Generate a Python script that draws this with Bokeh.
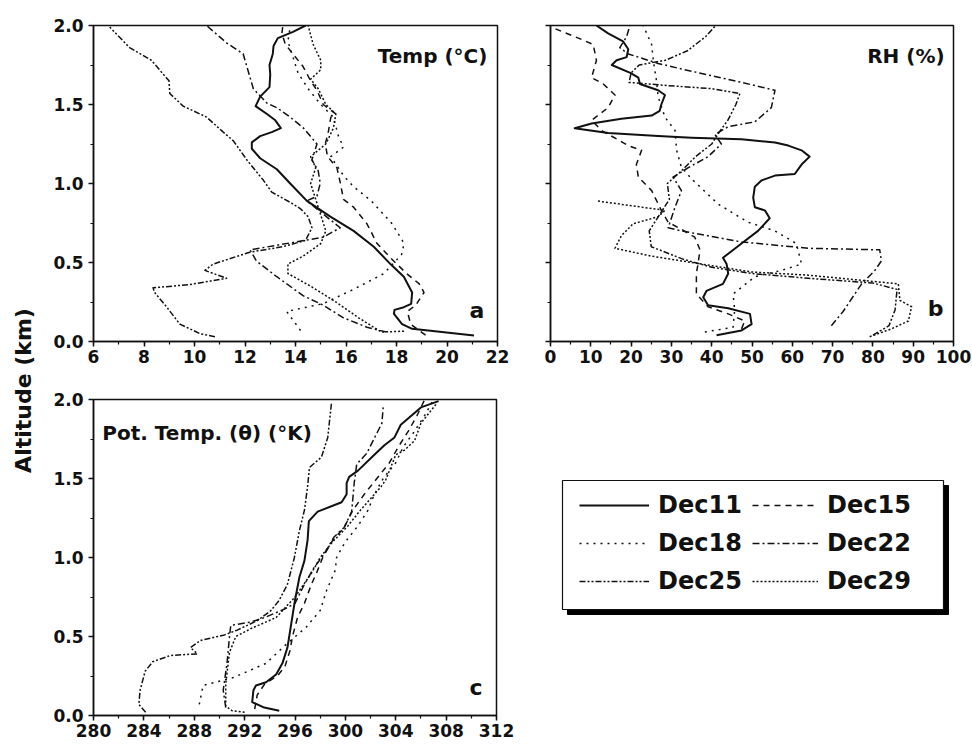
import math
from bokeh.plotting import figure
from bokeh.models import Range1d, FixedTicker, Label, Legend, LegendItem, PrintfTickFormatter
from bokeh.layouts import row, column
from bokeh.embed import file_html
from bokeh.resources import INLINE

# ---------------- data (altitude in km) ----------------
dates = ["Dec11", "Dec15", "Dec18", "Dec22", "Dec25", "Dec29"]

# Panel a: temperature (deg C)
a_dec11_alt = [0.038, 0.08, 0.11, 0.175, 0.2, 0.217, 0.238, 0.31, 0.41, 0.49, 0.6, 0.7, 0.79, 0.89, 1.0, 1.09, 1.16, 1.22, 1.26, 1.30, 1.325, 1.35, 1.40, 1.44, 1.49, 1.55, 1.61, 1.69, 1.75, 1.82, 1.87, 1.92, 1.96, 2.0]
a_dec11_val = [21.07, 18.62, 18.22, 17.9, 17.92, 18.29, 18.58, 18.62, 18.29, 17.76, 17.1, 16.3, 15.38, 14.45, 13.79, 13.26, 12.6, 12.27, 12.27, 12.6, 13.06, 13.42, 13.2, 12.87, 12.42, 12.6, 12.97, 13.0, 12.97, 13.1, 13.13, 13.3, 13.9, 14.4]
a_dec15_alt = [0.04, 0.11, 0.19, 0.23, 0.31, 0.365, 0.43, 0.53, 0.62, 0.745, 0.85, 0.9, 1.0, 1.1, 1.17, 1.25, 1.335, 1.42, 1.44, 1.5, 1.59, 1.65, 1.74, 1.82, 1.88, 1.95, 2.0]
a_dec15_val = [19.15, 18.56, 18.43, 18.76, 19.09, 18.9, 18.4, 17.76, 17.23, 16.83, 16.3, 15.9, 15.78, 15.64, 15.27, 15.18, 15.31, 15.4, 15.6, 15.1, 14.85, 14.6, 14.3, 13.9, 13.6, 13.46, 13.5]
a_dec18_alt = [0.07, 0.19, 0.24, 0.33, 0.43, 0.55, 0.62, 0.70, 0.75, 0.89, 0.98, 1.05, 1.17, 1.23, 1.3, 1.42, 1.5, 1.6, 1.7, 1.8, 1.9, 2.0]
a_dec18_val = [14.2, 13.65, 15.1, 16.3, 17.5, 18.2, 18.3, 18.0, 17.8, 17.0, 16.3, 15.9, 15.4, 15.9, 15.7, 15.5, 15.0, 14.5, 14.1, 13.9, 13.7, 13.8]
a_dec22_alt = [0.06, 0.09, 0.15, 0.23, 0.29, 0.41, 0.51, 0.58, 0.66, 0.72, 0.89, 0.92, 1.0, 1.08, 1.15, 1.25, 1.35, 1.42, 1.48, 1.51, 1.60, 1.78, 1.82, 1.89, 2.0]
a_dec22_val = [17.6, 16.83, 15.9, 15.1, 14.3, 13.26, 12.45, 12.2, 15.1, 15.77, 14.45, 14.85, 14.98, 14.9, 14.65, 14.85, 14.32, 13.79, 13.26, 12.86, 12.33, 12.0, 11.93, 11.27, 10.48]
a_dec25_alt = [0.03, 0.05, 0.11, 0.22, 0.31, 0.34, 0.36, 0.40, 0.45, 0.49, 0.565, 0.6, 0.64, 0.72, 0.79, 0.84, 0.88, 0.945, 1.02, 1.15, 1.27, 1.325, 1.42, 1.49, 1.57, 1.65, 1.78, 1.86, 1.99]
a_dec25_val = [10.81, 10.21, 9.42, 8.89, 8.42, 8.36, 9.8, 11.27, 10.41, 10.74, 12.19, 13.5, 14.4, 14.65, 14.5, 14.2, 13.8, 13.06, 12.73, 12.07, 11.54, 11.14, 10.48, 9.55, 9.02, 8.99, 8.29, 7.43, 6.64]
a_dec29_alt = [0.065, 0.06, 0.15, 0.25, 0.35, 0.43, 0.49, 0.54, 0.62, 0.7, 0.8, 0.9, 1.0, 1.1, 1.17, 1.25, 1.35, 1.44, 1.5, 1.6, 1.66, 1.72, 1.78, 1.88, 2.0]
a_dec29_val = [18.3, 17.4, 16.5, 15.6, 14.6, 13.7, 13.7, 14.3, 15.0, 15.2, 15.0, 14.8, 14.6, 14.8, 14.6, 15.2, 15.5, 15.6, 15.2, 14.9, 14.6, 15.0, 15.0, 14.7, 14.5]

# Panel b: relative humidity (%)
b_dec11_alt = [0.04, 0.07, 0.11, 0.175, 0.21, 0.23, 0.28, 0.32, 0.365, 0.43, 0.49, 0.53, 0.62, 0.70, 0.78, 0.83, 0.85, 0.91, 0.98, 1.02, 1.05, 1.06, 1.12, 1.17, 1.21, 1.24, 1.26, 1.28, 1.29, 1.30, 1.32, 1.35, 1.38, 1.41, 1.43, 1.46, 1.5, 1.56, 1.59, 1.63, 1.67, 1.70, 1.75, 1.78, 1.8, 1.85, 1.9, 1.95, 2.0]
b_dec11_val = [41.2, 47.4, 49.9, 49.5, 44.1, 39.1, 37.9, 38.7, 42.8, 44.1, 43.7, 42.8, 47.4, 51.5, 54.4, 53.2, 50.7, 50.3, 50.7, 52.4, 55.7, 60.6, 62.3, 64.3, 62.3, 59.0, 55.7, 47.4, 35.0, 26.7, 14.3, 6.0, 10.2, 17.6, 25.1, 27.1, 27.5, 28.4, 26.7, 22.2, 21.8, 19.8, 15.2, 16.4, 18.9, 19.3, 18.0, 14.3, 11.4]
b_dec15_alt = [0.08, 0.13, 0.175, 0.22, 0.30, 0.43, 0.49, 0.58, 0.66, 0.71, 0.755, 0.83, 0.955, 1.04, 1.12, 1.21, 1.24, 1.335, 1.40, 1.48, 1.56, 1.63, 1.67, 1.78, 1.88, 1.93, 1.98]
b_dec15_val = [47.4, 48.2, 44.1, 39.1, 36.2, 36.2, 36.6, 37.1, 35.8, 32.5, 29.2, 27.5, 25.1, 21.8, 21.3, 22.6, 19.3, 12.7, 10.2, 14.3, 16.0, 13.1, 10.2, 11.4, 10.6, 6.0, 1.1]
b_dec18_alt = [0.06, 0.09, 0.2, 0.3, 0.41, 0.45, 0.49, 0.62, 0.70, 0.755, 0.87, 1.02, 1.10, 1.21, 1.335, 1.42, 1.55, 1.65, 1.78, 1.88, 2.0]
b_dec18_val = [38.3, 45.3, 45.7, 45.3, 50.7, 57.3, 62.3, 61.0, 55.7, 49.0, 41.6, 35.4, 32.5, 31.3, 30.9, 28.4, 26.7, 26.3, 25.5, 25.1, 23.0]
b_dec22_alt = [0.10, 0.19, 0.365, 0.45, 0.51, 0.58, 0.59, 0.63, 0.70, 0.72, 0.85, 0.955, 1.04, 1.10, 1.17, 1.25, 1.31, 1.36, 1.39, 1.48, 1.59, 1.64, 1.72, 1.76, 1.82, 1.86, 1.93, 2.0]
b_dec22_val = [69.7, 72.6, 77.2, 80.5, 82.1, 81.7, 63.9, 47.4, 32.5, 29.2, 30.9, 32.5, 30.4, 34.2, 39.1, 42.4, 40.8, 44.1, 50.7, 54.8, 55.7, 47.4, 33.3, 26.7, 19.3, 17.2, 18.9, 19.7]
b_dec25_alt = [0.04, 0.1, 0.2, 0.33, 0.37, 0.4, 0.43, 0.47, 0.52, 0.6, 0.7, 0.8, 0.9, 1.0, 1.08, 1.17, 1.25, 1.33, 1.4, 1.5, 1.57, 1.6, 1.62, 1.64, 1.7, 1.75, 1.78, 1.84, 1.93, 2.0]
b_dec25_val = [80, 84, 85.5, 86, 80, 64, 50, 40, 33, 25, 24.5, 27, 29.5, 29, 32.5, 36, 40, 42, 44, 46, 47, 40, 29, 19.5, 20, 22, 28.5, 34, 38.5, 41]
b_dec29_alt = [0.03, 0.08, 0.13, 0.22, 0.26, 0.365, 0.42, 0.44, 0.49, 0.54, 0.59, 0.67, 0.745, 0.79, 0.83, 0.89]
b_dec29_val = [79.2, 84.6, 88.8, 89.6, 86.7, 86.3, 63.9, 49.9, 37.5, 25.1, 16.0, 17.6, 20.5, 26.7, 28.4, 11.4]

# Panel c: potential temperature (K)
c_dec11_alt = [0.03, 0.05, 0.085, 0.16, 0.19, 0.21, 0.26, 0.33, 0.43, 0.58, 0.73, 0.875, 0.98, 1.11, 1.23, 1.29, 1.35, 1.40, 1.47, 1.51, 1.55, 1.65, 1.71, 1.76, 1.84, 1.95, 1.99]
c_dec11_val = [294.75, 293.56, 292.6, 292.7, 292.9, 293.7, 294.5, 295.0, 295.4, 295.7, 296.0, 296.35, 296.75, 297.0, 297.1, 297.8, 299.7, 300.1, 300.1, 300.3, 301.0, 302.3, 303.1, 303.9, 304.4, 306.0, 307.4]
c_dec15_alt = [0.04, 0.13, 0.2, 0.25, 0.31, 0.41, 0.5, 0.62, 0.71, 0.83, 0.9, 1.0, 1.11, 1.19, 1.3, 1.4, 1.5, 1.6, 1.7, 1.8, 1.9, 2.0]
c_dec15_val = [292.8, 293.0, 293.6, 294.6, 295.2, 295.6, 295.8, 296.2, 296.75, 297.3, 297.7, 298.2, 299.0, 299.9, 300.6, 301.5, 302.5, 303.5, 304.2, 305.0, 305.7, 306.3]
c_dec18_alt = [0.07, 0.19, 0.24, 0.33, 0.45, 0.56, 0.665, 0.79, 0.92, 1.0, 1.1, 1.2, 1.3, 1.4, 1.5, 1.6, 1.7, 1.8, 1.9, 2.0]
c_dec18_val = [288.4, 288.7, 291.1, 293.7, 295.3, 296.9, 298.0, 298.5, 299.2, 299.3, 300.0, 301.0, 301.8, 302.3, 303.0, 304.0, 304.6, 305.5, 306.3, 307.0]
c_dec22_alt = [0.05, 0.16, 0.33, 0.5, 0.57, 0.59, 0.62, 0.675, 0.71, 0.83, 0.935, 1.02, 1.13, 1.19, 1.29, 1.47, 1.59, 1.66, 1.85, 1.95]
c_dec22_val = [290.5, 290.3, 290.6, 290.8, 290.9, 292.4, 293.6, 295.2, 296.0, 296.75, 297.5, 298.3, 299.1, 299.9, 300.5, 300.7, 300.9, 301.7, 302.9, 303.0]
c_dec25_alt = [0.02, 0.07, 0.16, 0.28, 0.34, 0.38, 0.39, 0.43, 0.475, 0.51, 0.54, 0.60, 0.665, 0.73, 0.83, 1.0, 1.17, 1.30, 1.45, 1.57, 1.635, 1.76, 1.87, 1.98]
c_dec25_val = [284.14, 283.6, 283.7, 284.1, 284.7, 286.1, 288.25, 287.7, 288.5, 290.4, 291.4, 293.0, 294.1, 294.75, 295.4, 295.95, 296.35, 296.75, 297.0, 297.15, 298.1, 298.6, 298.75, 298.9]
c_dec29_alt = [0.02, 0.03, 0.06, 0.2, 0.4, 0.5, 0.55, 0.62, 0.75, 0.9, 1.0, 1.1, 1.2, 1.3, 1.4, 1.45, 1.49, 1.57, 1.65, 1.68, 1.74, 1.85, 1.97]
c_dec29_val = [292.0, 291.0, 290.5, 290.5, 290.8, 291.3, 292.5, 294.5, 296.0, 297.3, 298.0, 299.0, 300.2, 301.2, 302.3, 302.85, 303.2, 303.6, 304.0, 304.7, 305.5, 306.0, 307.2]

a_xticks = list(range(6, 23, 2))
b_xticks = list(range(0, 101, 10))
c_xticks = list(range(280, 313, 4))
y_ticks = [0.0, 0.5, 1.0, 1.5, 2.0]

FONT = "DejaVu Sans"
INK = "#111111"
STYLE = {
    "Dec11": dict(line_width=2.0, line_dash="solid"),
    "Dec15": dict(line_width=1.5, line_dash="6 5"),
    "Dec18": dict(line_width=1.5, line_dash="2 5"),
    "Dec22": dict(line_width=1.5, line_dash="7 3 2 3"),
    "Dec25": dict(line_width=1.5, line_dash="6 2 2 2 2 2"),
    "Dec29": dict(line_width=1.5, line_dash="2 2"),
}

panel_a = dict(zip(dates, [(a_dec11_alt, a_dec11_val), (a_dec15_alt, a_dec15_val), (a_dec18_alt, a_dec18_val),
                           (a_dec22_alt, a_dec22_val), (a_dec25_alt, a_dec25_val), (a_dec29_alt, a_dec29_val)]))
panel_b = dict(zip(dates, [(b_dec11_alt, b_dec11_val), (b_dec15_alt, b_dec15_val), (b_dec18_alt, b_dec18_val),
                           (b_dec22_alt, b_dec22_val), (b_dec25_alt, b_dec25_val), (b_dec29_alt, b_dec29_val)]))
panel_c = dict(zip(dates, [(c_dec11_alt, c_dec11_val), (c_dec15_alt, c_dec15_val), (c_dec18_alt, c_dec18_val),
                           (c_dec22_alt, c_dec22_val), (c_dec25_alt, c_dec25_val), (c_dec29_alt, c_dec29_val)]))


def make_panel(width, height, left, right, top, bottom, xr, xticks, xstep, show_ylabels, data):
    p = figure(width=width, height=height, min_border_left=left, min_border_right=right,
               min_border_top=top, min_border_bottom=bottom, title=None,
               x_range=Range1d(*xr), y_range=Range1d(0, 2),
               output_backend="svg", toolbar_location=None)
    p.xgrid.visible = False
    p.ygrid.visible = False
    p.outline_line_color = INK
    p.outline_line_width = 1.5
    p.background_fill_color = "white"
    p.border_fill_color = "white"
    minor_x = [xr[0] + i * xstep for i in range(int(round((xr[1] - xr[0]) / xstep)) + 1)]
    p.xaxis.ticker = FixedTicker(ticks=xticks, minor_ticks=minor_x)
    p.yaxis.ticker = FixedTicker(ticks=y_ticks, minor_ticks=[i * 0.25 for i in range(9)])
    p.yaxis.formatter = PrintfTickFormatter(format="%.1f")
    for ax in (p.xaxis[0], p.yaxis[0]):
        ax.axis_line_color = INK
        ax.axis_line_width = 1.5
        ax.major_tick_line_color = INK
        ax.major_tick_line_width = 1.5
        ax.minor_tick_line_color = INK
        ax.minor_tick_line_width = 1.2
        ax.major_tick_in = 0
        ax.major_tick_out = 5
        ax.minor_tick_in = 0
        ax.minor_tick_out = 3
        ax.major_label_text_font = FONT
        ax.major_label_text_font_style = "bold"
        ax.major_label_text_font_size = "17px"
        ax.major_label_text_color = INK
    p.xaxis.major_label_standoff = 3
    p.yaxis.major_label_standoff = 5
    if not show_ylabels:
        p.yaxis.major_label_text_color = None
    for d in dates:
        alt, val = data[d]
        p.line(x=val, y=alt, line_color=INK, line_join="round", **STYLE[d])
    return p


def add_text(p, x, y, text, size, align):
    p.add_layout(Label(x=x, y=y, text=text, text_align=align, text_baseline="alphabetic",
                       text_font=FONT, text_font_style="bold", text_font_size=size, text_color=INK))


pa = make_panel(477, 381, 53, 20, 25, 40, (6, 22), a_xticks, 1, True, panel_a)
pb = make_panel(455, 381, 33, 19, 25, 40, (0, 100), b_xticks, 5, False, panel_b)
pc = make_panel(476, 365, 53, 20, 18, 31, (280, 312), c_xticks, 2, True, panel_c)

add_text(pa, 21.6, 1.81, "Temp (°C)", "20px", "right")
add_text(pa, 21.48, 0.196, "a", "22px", "right")
add_text(pb, 97.8, 1.81, "RH (%)", "20px", "right")
add_text(pb, 97.5, 0.21, "b", "22px", "right")
add_text(pc, 280.7, 1.79, "Pot. Temp. (θ) (°K)", "20px", "left")
add_text(pc, 310.9, 0.18, "c", "22px", "right")

# y-axis title shared by panels (pixel-scaled helper canvas)
lab = figure(width=40, height=746, x_range=Range1d(0, 40), y_range=Range1d(0, 746),
             min_border=0, title=None, x_axis_location=None, y_axis_location=None,
             output_backend="svg", toolbar_location=None)
lab.grid.visible = False
lab.outline_line_color = None
lab.add_layout(Label(x=23, y=356, text="Altitude (km)", angle=math.pi / 2, text_align="center",
                     text_baseline="middle", text_font=FONT, text_font_style="bold",
                     text_font_size="22px", text_color=INK))

# legend panel (frame aligned with panel c; y range in frame pixels)
lg = figure(width=456, height=365, x_range=Range1d(0, 456), y_range=Range1d(0, 316),
            min_border_left=0, min_border_right=0, min_border_top=18, min_border_bottom=31,
            title=None, x_axis_location=None, y_axis_location=None,
            output_backend="svg", toolbar_location=None)
lg.grid.visible = False
lg.outline_line_color = None
lg.quad(left=[51], right=[432], bottom=[101], top=[230], fill_color="black", line_color="black")
lg.quad(left=[46], right=[427], bottom=[106], top=[235], fill_color="white", line_color=INK, line_width=1.2)
rends = {d: lg.line(x=[math.nan], y=[math.nan], line_color=INK, **STYLE[d]) for d in dates}


def make_legend(names, loc, gw):
    return Legend(items=[LegendItem(label=n, renderers=[rends[n]]) for n in names], location=loc,
                  orientation="vertical", padding=0, margin=0, spacing=10, glyph_width=gw,
                  glyph_height=28, label_height=28, label_standoff=9, border_line_color=None,
                  background_fill_alpha=0, label_text_font=FONT, label_text_font_style="bold",
                  label_text_font_size="24px", label_text_color=INK)


lg.add_layout(make_legend(["Dec11", "Dec18", "Dec25"], (63, 120), 70))
lg.add_layout(make_legend(["Dec15", "Dec22", "Dec29"], (236, 120), 66))

layout = row(lab, column(row(pa, pb), row(pc, lg)))
open("out.html", "w").write(file_html(layout, INLINE))
